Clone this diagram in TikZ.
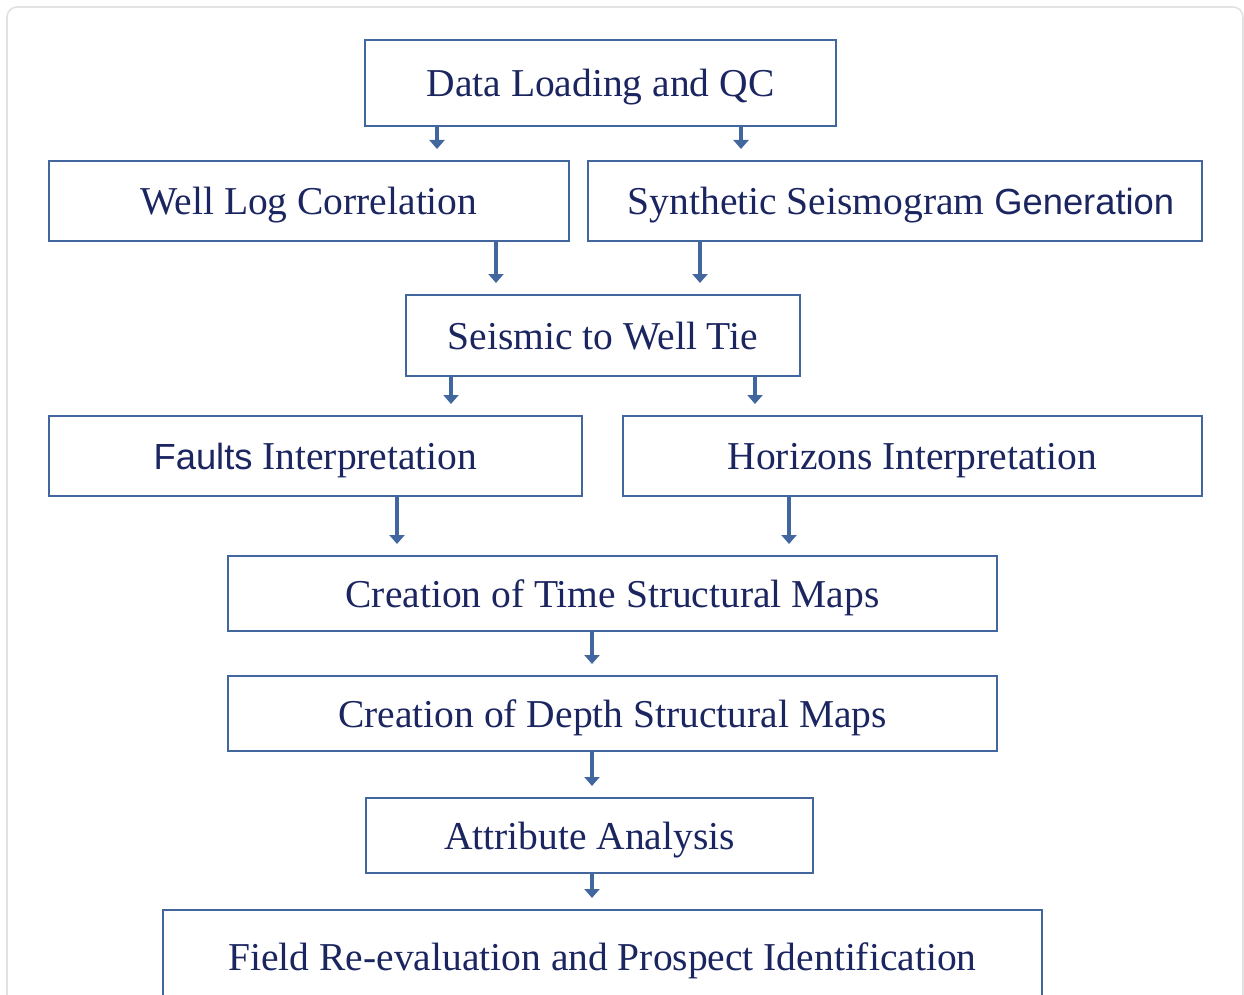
\documentclass[tikz,border=0pt]{standalone}
\usepackage{fontspec}
\setmainfont{Liberation Serif}
\setsansfont[Scale=0.92]{Liberation Sans}
\usetikzlibrary{arrows.meta}
\definecolor{boxblue}{HTML}{41679E}
\definecolor{txtnavy}{HTML}{1B2560}
\definecolor{framegray}{HTML}{E2E2E2}
\tikzset{
  stepbox/.style={draw=boxblue, line width=2.8pt, fill=white, text=txtnavy,
    font=\fontsize{39.5}{45}\selectfont, text height=27pt, text depth=0pt,
    inner sep=0pt, outer sep=0pt, anchor=center},
  arr/.style={draw=boxblue, line width=4.6pt, -{Triangle[length=9pt,width=15pt]}, shorten >=12pt}
}
\begin{document}
\begin{tikzpicture}[x=1pt,y=-1pt]
\useasboundingbox (0,0) rectangle (1244,995);
\clip (0,0) rectangle (1244,995);
\draw[framegray, line width=1.6pt, rounded corners=10pt] (7,7) rectangle (1243,1020);

\node[stepbox, minimum width=471pt, minimum height=86pt] (n1) at (600.5,83) {Data Loading and QC};
\node[stepbox, minimum width=520pt, minimum height=80pt] (n2) at (309,201) {Well Log Correlation};
\node[stepbox, minimum width=614pt, minimum height=80pt] (n3) at (895,201) {\hspace*{12pt}Synthetic Seismogram {\sffamily Generation}};
\node[stepbox, minimum width=394pt, minimum height=81pt] (n4) at (603,335.5) {Seismic to Well Tie};
\node[stepbox, minimum width=533pt, minimum height=80pt] (n5) at (315.5,456) {{\sffamily Faults} Interpretation};
\node[stepbox, minimum width=579pt, minimum height=80pt] (n6) at (912.5,456) {Horizons Interpretation};
\node[stepbox, minimum width=769pt, minimum height=75pt] (n7) at (612.5,593.5) {Creation of Time Structural Maps};
\node[stepbox, minimum width=769pt, minimum height=75pt] (n8) at (612.5,713.5) {Creation of Depth Structural Maps};
\node[stepbox, minimum width=447pt, minimum height=75pt] (n9) at (589.5,835.5) {Attribute Analysis};
\node[stepbox, minimum width=879pt, minimum height=94pt, text height=0pt] (n10) at (602.5,957) {};
\node[text=txtnavy, font=\fontsize{39.5}{45}\selectfont, inner sep=0pt, anchor=base] (t10) at (602.5,970) {Field Re-evaluation and Prospect Identification};

\draw[arr] ([xshift=-163.5pt]n1.south) -- ([xshift=-163.5pt]n1.south |- n2.north);
\draw[arr] ([xshift=140.5pt]n1.south) -- ([xshift=140.5pt]n1.south |- n3.north);
\draw[arr] ([xshift=187pt]n2.south) -- ([xshift=187pt]n2.south |- n4.north);
\draw[arr] ([xshift=-195pt]n3.south) -- ([xshift=-195pt]n3.south |- n4.north);
\draw[arr] ([xshift=-152pt]n4.south) -- ([xshift=-152pt]n4.south |- n5.north);
\draw[arr] ([xshift=152pt]n4.south) -- ([xshift=152pt]n4.south |- n6.north);
\draw[arr] ([xshift=81.5pt]n5.south) -- ([xshift=81.5pt]n5.south |- n7.north);
\draw[arr] ([xshift=-123.5pt]n6.south) -- ([xshift=-123.5pt]n6.south |- n7.north);
\draw[arr] ([xshift=-20.5pt]n7.south) -- ([xshift=-20.5pt]n7.south |- n8.north);
\draw[arr] ([xshift=-20.5pt]n8.south) -- ([xshift=-20.5pt]n8.south |- n9.north);
\draw[arr] ([xshift=2.5pt]n9.south) -- ([xshift=2.5pt]n9.south |- n10.north);
\end{tikzpicture}
\end{document}
